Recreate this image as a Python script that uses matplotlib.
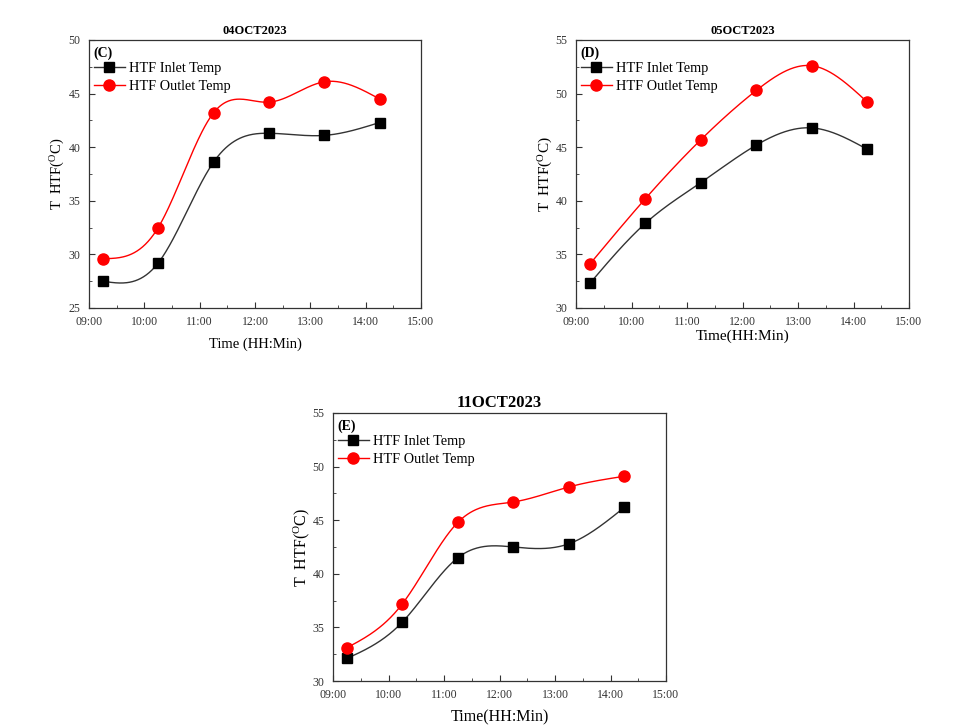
import numpy as np
import matplotlib
matplotlib.use("Agg")
import matplotlib.pyplot as plt
from matplotlib.ticker import MultipleLocator

plt.rcParams['font.family'] = ['Liberation Serif', 'DejaVu Serif']
plt.rcParams['mathtext.fontset'] = 'custom'
plt.rcParams['mathtext.rm'] = 'Liberation Serif'
plt.rcParams['mathtext.it'] = 'Liberation Serif'

# Data (time in hours)
times = [9.25, 10.25, 11.25, 12.25, 13.25, 14.25]
tick_hours = [9, 10, 11, 12, 13, 14, 15]
tick_labels = ["09:00", "10:00", "11:00", "12:00", "13:00", "14:00", "15:00"]

inlet_04 = [27.5, 29.2, 38.6, 41.3, 41.1, 42.3]
outlet_04 = [29.6, 32.5, 43.2, 44.2, 46.1, 44.5]
inlet_05 = [32.3, 37.9, 41.7, 45.2, 46.8, 44.8]
outlet_05 = [34.1, 40.2, 45.7, 50.3, 52.6, 49.2]
inlet_11 = [32.1, 35.5, 41.5, 42.5, 42.8, 46.2]
outlet_11 = [33.1, 37.2, 44.8, 46.7, 48.1, 49.1]


def natural_spline(x, y, n=300):
    x = np.asarray(x, float); y = np.asarray(y, float)
    m = len(x)
    h = np.diff(x)
    A = np.zeros((m, m)); b = np.zeros(m)
    A[0, 0] = 1; A[-1, -1] = 1
    for i in range(1, m - 1):
        A[i, i - 1] = h[i - 1]
        A[i, i] = 2 * (h[i - 1] + h[i])
        A[i, i + 1] = h[i]
        b[i] = 3 * ((y[i + 1] - y[i]) / h[i] - (y[i] - y[i - 1]) / h[i - 1])
    c = np.linalg.solve(A, b)
    xs = np.linspace(x[0], x[-1], n)
    ys = np.empty_like(xs)
    for k, xv in enumerate(xs):
        i = min(np.searchsorted(x, xv, side='right') - 1, m - 2)
        dx = xv - x[i]
        bi = (y[i + 1] - y[i]) / h[i] - h[i] * (2 * c[i] + c[i + 1]) / 3
        di = (c[i + 1] - c[i]) / (3 * h[i])
        ys[k] = y[i] + bi * dx + c[i] * dx ** 2 + di * dx ** 3
    return xs, ys


fig = plt.figure(figsize=(9.73, 7.27), dpi=100)
W, H = 973, 727


def make_ax(l, t, r, b):
    return fig.add_axes([l / W, 1 - b / H, (r - l) / W, (b - t) / H])


def draw(ax, inlet, outlet, ylim, title, letter, xlabel, title_fs, lab_fs, xpad, ypad):
    for ys, col, mk, ms, lab in [(inlet, 'black', 's', 7.5, 'HTF Inlet Temp'),
                                  (outlet, 'red', 'o', 8, 'HTF Outlet Temp')]:
        lc = col if col == 'red' else '#333333'
        sx, sy = natural_spline(times, ys)
        ax.plot(sx, sy, color=lc, lw=1.0, zorder=2)
        ax.plot(times, ys, linestyle='none', marker=mk, ms=ms, color=col, zorder=3)
        ax.plot([], [], color=lc, lw=1.0, marker=mk, ms=ms, mfc=col, mec=col, label=lab)
    ax.set_xlim(9, 15)
    ax.set_ylim(*ylim)
    ax.set_xticks(tick_hours)
    ax.set_xticklabels(tick_labels)
    ax.xaxis.set_minor_locator(MultipleLocator(0.5))
    ax.yaxis.set_major_locator(MultipleLocator(5))
    ax.yaxis.set_minor_locator(MultipleLocator(2.5))
    ax.tick_params(which='both', direction='in', labelsize=8.5, colors='#333333', pad=6)
    ax.tick_params(which='major', length=4)
    ax.tick_params(which='minor', length=2)
    for s in ax.spines.values():
        s.set_linewidth(0.9)
        s.set_color('#333333')
    ax.set_title(title, fontsize=title_fs, fontweight='bold', pad=4)
    ax.set_xlabel(xlabel, fontsize=lab_fs, labelpad=xpad)
    ax.set_ylabel(r'T  HTF($^{\rm O}$C)', fontsize=lab_fs, labelpad=ypad)
    ax.text(0.012, 0.975, letter, transform=ax.transAxes, fontsize=10,
            fontweight='bold', va='top', ha='left')
    ax.legend(loc='upper left', bbox_to_anchor=(-0.012, 0.95), frameon=False,
              fontsize=10.3, handlelength=2.2, handletextpad=0.3,
              labelspacing=0.38, borderaxespad=0.2)


ax1 = make_ax(89, 40, 421, 308)
draw(ax1, inlet_04, outlet_04, (25, 50), '04OCT2023', '(C)', 'Time (HH:Min)', 9, 10.5, 6.5, 1.0)
ax2 = make_ax(576, 40, 909, 308)
draw(ax2, inlet_05, outlet_05, (30, 55), '05OCT2023', '(D)', 'Time(HH:Min)', 9, 11, 1, 0.5)
ax3 = make_ax(333, 413, 666, 681)
draw(ax3, inlet_11, outlet_11, (30, 55), '11OCT2023', '(E)', 'Time(HH:Min)', 12, 11.5, 6, 0.5)

fig.savefig('out.png', dpi=100)
